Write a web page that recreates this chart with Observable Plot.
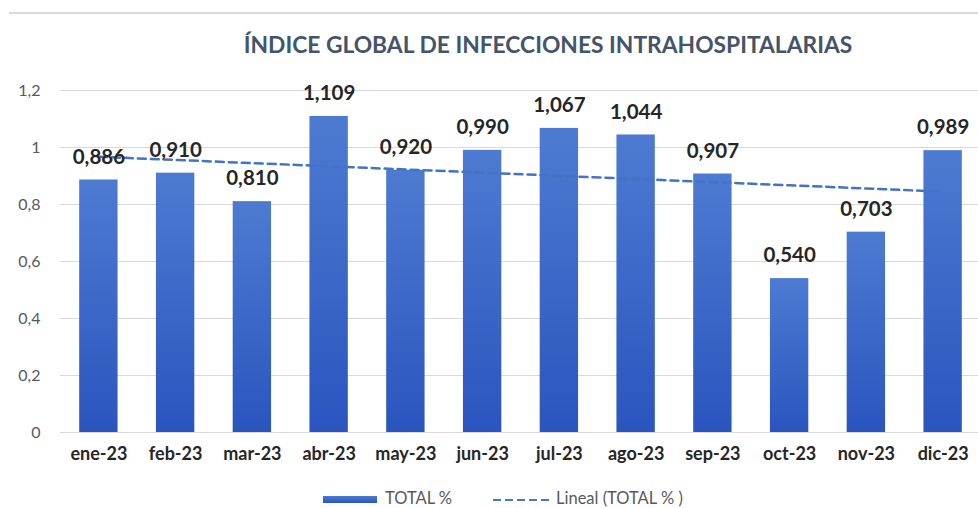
<!DOCTYPE html>
<html><head><meta charset="utf-8">
<script src="https://cdn.jsdelivr.net/npm/d3@7"></script>
<script src="https://cdn.jsdelivr.net/npm/@observablehq/plot@0.6"></script>
<style>
body{margin:0;background:#fff;}
#wrap{position:relative;width:978px;height:508px;overflow:hidden;font-family:Lato,"Open Sans",sans-serif;background:#fff;}
#topline{position:absolute;left:9px;top:12px;width:969px;height:2px;background:#d9d9d9;}
#title{position:absolute;left:148px;width:800px;top:30px;text-align:center;font-weight:bold;font-size:22.8px;line-height:28px;color:#44546a;white-space:nowrap;}
#chart{position:absolute;left:0;top:60px;}
.lg{position:absolute;font-size:16.5px;color:#595959;line-height:17px;white-space:nowrap;}
</style></head>
<body>
<div id="wrap">
  <div id="topline"></div>
  <div id="title">ÍNDICE GLOBAL DE INFECCIONES INTRAHOSPITALARIAS</div>
  <div id="chart"></div>
  <div class="lg" style="left:323px;top:496px;width:54px;height:7px;background:linear-gradient(#4c7bd0,#2a55bf);"></div>
  <div class="lg" style="left:385px;top:490px;">TOTAL %</div>
  <svg class="lg" style="left:493px;top:498px;" width="60" height="4"><line x1="0" y1="2" x2="60" y2="2" stroke="#4a78c8" stroke-width="2" stroke-dasharray="8,4"/></svg>
  <div class="lg" style="left:556px;top:490px;">Lineal (TOTAL % )</div>
</div>
<script>
const months = ["ene-23","feb-23","mar-23","abr-23","may-23","jun-23","jul-23","ago-23","sep-23","oct-23","nov-23","dic-23"];
const values = [0.886,0.910,0.810,1.109,0.920,0.990,1.067,1.044,0.907,0.540,0.703,0.989];
const yTicks = [0,0.2,0.4,0.6,0.8,1,1.2];

const data = months.map((m,i)=>({m, v: values[i]}));
// linear trend (Excel "Lineal") computed from the values
const xs = values.map((_,i)=>i+1);
const mx = d3.mean(xs), my = d3.mean(values);
const slope = d3.sum(xs.map((x,i)=>(x-mx)*(values[i]-my))) / d3.sum(xs.map(x=>(x-mx)**2));
const trend = months.map((m,i)=>({m, t: my + slope*(xs[i]-mx)}));

const fmtY = d => String(d).replace(".", ",");
const fmtV = d => d3.format(".3f")(d).replace(".", ",");

const svg = Plot.plot({
  width: 978, height: 415,
  marginLeft: 60, marginRight: 0, marginTop: 30, marginBottom: 43,
  style: {fontFamily: "Lato, 'Open Sans', sans-serif", background: "#fff"},
  x: {domain: months, range: [60, 981], paddingInner: 0.5, paddingOuter: 0.25, round: false, label: null},
  y: {domain: [0, 1.2], label: null},
  marks: [
    Plot.gridY(yTicks, {stroke: "#d9d9d9", strokeOpacity: 1, strokeWidth: 1}),
    Plot.barY(data, {x: "m", y: "v", fill: "url(#barGrad)"}),
    Plot.line(trend, {x: "m", y: "t", stroke: "#4472c4", strokeWidth: 2.5, strokeDasharray: "8,5"}),
    Plot.text(data, {x: "m", y: "v", text: d => fmtV(d.v), dy: -23, fontSize: 20.5, fontWeight: "bold", fill: "#262626"}),
    Plot.axisY(yTicks, {tickFormat: fmtY, tickSize: 0, tickPadding: 20, fontSize: 16, fill: "#595959", label: null}),
    Plot.axisX({tickSize: 0, tickPadding: 15, fontSize: 18, fontWeight: "bold", fill: "#262626", label: null})
  ]
});
const ns = "http://www.w3.org/2000/svg";
const defs = document.createElementNS(ns, "defs");
defs.innerHTML = '<linearGradient id="barGrad" x1="0" y1="0" x2="0" y2="1"><stop offset="0%" stop-color="#4d7bd1"/><stop offset="100%" stop-color="#2a55bf"/></linearGradient>';
svg.insertBefore(defs, svg.firstChild);
document.getElementById("chart").appendChild(svg);
</script>
</body></html>
